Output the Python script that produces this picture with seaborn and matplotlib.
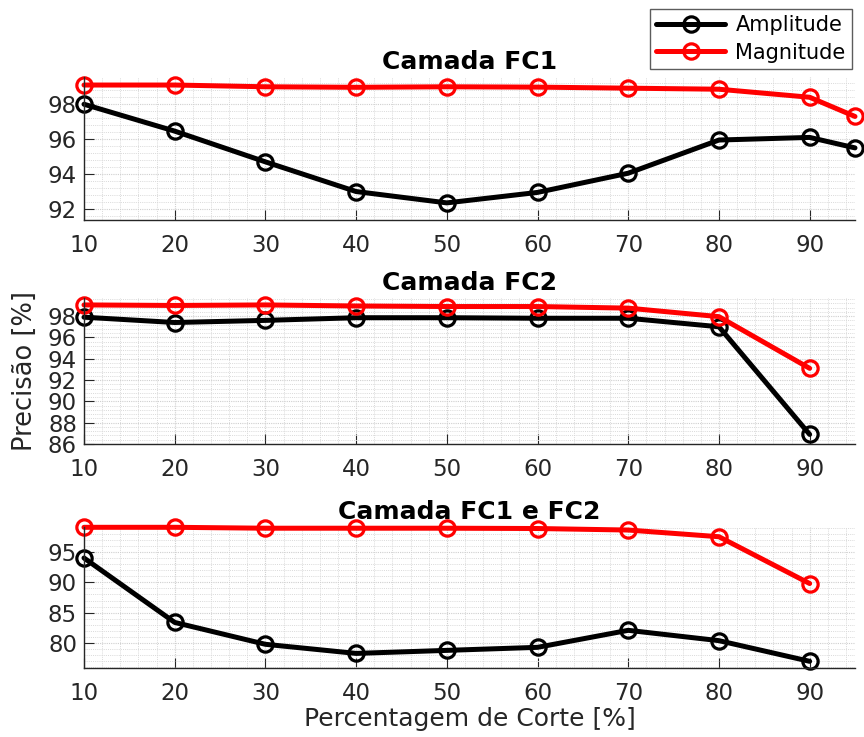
import matplotlib
matplotlib.use("Agg")
import matplotlib.pyplot as plt
from matplotlib.ticker import MultipleLocator
import seaborn as sns
import pandas as pd

sns.set_theme(style="white")
plt.rcParams["font.family"] = ["DejaVu Sans"]

# Pruning percentages
cut_fc1 = [10, 20, 30, 40, 50, 60, 70, 80, 90, 95]
cut_fc2 = [10, 20, 30, 40, 50, 60, 70, 80, 90]
cut_both = [10, 20, 30, 40, 50, 60, 70, 80, 90]

# Accuracy [%] after pruning layer FC1
amp_fc1 = [98.0, 96.46, 94.7, 93.0, 92.35, 92.95, 94.05, 95.95, 96.1, 95.5]
mag_fc1 = [99.1, 99.1, 99.0, 98.97, 99.0, 98.98, 98.92, 98.86, 98.4, 97.3]

# Accuracy [%] after pruning layer FC2
amp_fc2 = [97.9, 97.4, 97.6, 97.85, 97.85, 97.8, 97.8, 97.0, 86.9]
mag_fc2 = [99.05, 99.0, 99.05, 98.95, 98.9, 98.9, 98.75, 97.95, 93.1]

# Accuracy [%] after pruning both FC1 and FC2
amp_both = [94.0, 83.4, 79.8, 78.3, 78.8, 79.3, 82.1, 80.4, 77.0]
mag_both = [99.05, 99.05, 98.9, 98.9, 98.9, 98.85, 98.6, 97.5, 89.8]

titles = ["Camada FC1", "Camada FC2", "Camada FC1 e FC2"]
series_names = ["Amplitude", "Magnitude"]
tick_x = [10, 20, 30, 40, 50, 60, 70, 80, 90]

panels = [
    (cut_fc1, amp_fc1, mag_fc1, (91.37, 99.56), 2),
    (cut_fc2, amp_fc2, mag_fc2, (86.0, 99.7), 2),
    (cut_both, amp_both, mag_both, (75.9, 99.1), 5),
]

W, H = 864, 737
fig = plt.figure(figsize=(W / 100, H / 100), dpi=100)
fig.patch.set_facecolor("white")

# axes boxes in pixels: (top, bottom)
boxes = [(77, 220), (298, 444), (527, 668)]
left_px, right_px = 84, 855

axes = []
for (top, bot) in boxes:
    ax = fig.add_axes([left_px / W, 1 - bot / H, (right_px - left_px) / W, (bot - top) / H])
    axes.append(ax)

dark = "#262626"
for ax, (xs, amp, mag, ylim, ystep), title in zip(axes, panels, titles):
    df = pd.DataFrame({"x": xs + xs,
                       "y": amp + mag,
                       "serie": [series_names[0]] * len(xs) + [series_names[1]] * len(xs)})
    sns.lineplot(data=df, x="x", y="y", hue="serie",
                 palette={"Amplitude": "black", "Magnitude": "#ff0000"},
                 marker="o", markersize=11, markerfacecolor="none",
                 markeredgewidth=2.3, linewidth=3.6, ax=ax, legend=False)
    # open circles in the colour of their line
    for ln in ax.get_lines():
        ln.set_markeredgecolor(ln.get_color())
        ln.set_markerfacecolor("none")
        ln.set_clip_on(False)
    ax.set_xlim(10, 95)
    ax.set_ylim(*ylim)
    ax.set_xticks(tick_x)
    ax.yaxis.set_major_locator(MultipleLocator(ystep))
    ax.xaxis.set_minor_locator(MultipleLocator(2))
    ax.yaxis.set_minor_locator(MultipleLocator(ystep / 5))
    ax.grid(True, which="major", color="#cfcfcf", linewidth=0.8, linestyle=(0, (1, 1)))
    ax.grid(True, which="minor", color="#d9d9d9", linewidth=0.7, linestyle=(0, (1, 1.2)))
    ax.set_axisbelow(True)
    for s in ["top", "right"]:
        ax.spines[s].set_visible(False)
    for s in ["left", "bottom"]:
        ax.spines[s].set_color(dark)
        ax.spines[s].set_linewidth(1.0)
    ax.tick_params(axis="x", which="major", pad=10)
    ax.tick_params(axis="y", which="major", pad=5)
    ax.tick_params(axis="both", which="major", direction="in", length=7, width=0.8,
                   colors=dark, labelsize=16.5, left=True, bottom=True)
    ax.tick_params(axis="both", which="minor", direction="in", length=0, width=0.6,
                   colors=dark, left=True, bottom=True)
    ax.set_xlabel("")
    ax.set_ylabel("")
    ax.set_title(title, fontsize=18, fontweight="bold", pad=6, color="black")

axes[2].set_xlabel("Percentagem de Corte [%]", fontsize=18, color=dark, labelpad=1.5)
fig.text(25 / W, 1 - 371 / H, "Precisão [%]", rotation=90, ha="center", va="center",
         fontsize=18.5, color=dark)

handles = axes[0].get_lines()[:2]
leg = fig.legend(handles, series_names, loc="upper right",
                 bbox_to_anchor=(852 / W, 1 - 9 / H), fontsize=15,
                 frameon=True, fancybox=False, edgecolor="#333333",
                 handlelength=3.3, borderpad=0.3, labelspacing=0.35,
                 handletextpad=0.5, borderaxespad=0)
leg.get_frame().set_linewidth(1.0)
for t in leg.get_texts():
    t.set_color("black")

fig.savefig("out.png", dpi=100, facecolor="white")
